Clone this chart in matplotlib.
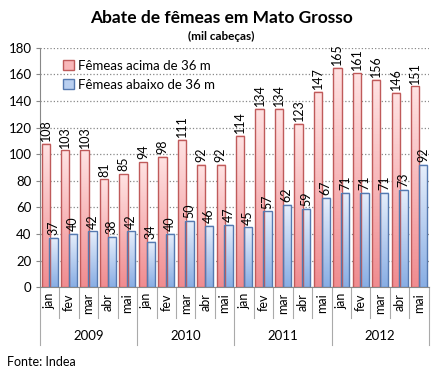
import numpy as np
import matplotlib
matplotlib.use("Agg")
import matplotlib.pyplot as plt
import matplotlib.transforms as mtransforms
from matplotlib.colors import LinearSegmentedColormap
from matplotlib.patches import Patch

plt.rcParams['font.family'] = ['Lato', 'DejaVu Sans']

# data (mil cabeças)
years = ['2009', '2010', '2011', '2012']
months = ['jan', 'fev', 'mar', 'abr', 'mai']
acima = [108, 103, 103, 81, 85,
         94, 98, 111, 92, 92,
         114, 134, 134, 123, 147,
         165, 161, 156, 146, 151]
abaixo = [37, 40, 42, 38, 42,
          34, 40, 50, 46, 47,
          45, 57, 62, 59, 67,
          71, 71, 71, 73, 92]

red_cmap = LinearSegmentedColormap.from_list('r', ['#f08c90', '#ffe2e2'])
blue_cmap = LinearSegmentedColormap.from_list('b', ['#89aee4', '#e6eefb'])
grad = np.linspace(0, 1, 64).reshape(-1, 1)

fig = plt.figure(figsize=(4.43, 3.89), dpi=100)
ax = fig.add_axes([0.09, 0.262, 0.878, 0.615])

n = len(acima)
x = np.arange(n)
w = 0.43


def gradient_bars(xs, vals, cmap, edge):
    bars = ax.bar(xs, vals, width=w, facecolor='none', edgecolor=edge,
                  linewidth=1.0, zorder=4)
    for b in bars:
        x0, y0 = b.get_x(), b.get_y()
        ax.imshow(grad, cmap=cmap, origin='lower', aspect='auto',
                  extent=(x0, x0 + b.get_width(), y0, y0 + b.get_height()),
                  zorder=3)
    return bars


gradient_bars(x - 0.2, acima, red_cmap, '#bf5a5a')
gradient_bars(x + 0.2, abaixo, blue_cmap, '#5579b0')

# value labels
for xi, v in zip(x, acima):
    ax.text(xi - 0.2, v + 2, str(v), rotation=90, ha='center', va='bottom',
            fontsize=9, zorder=6)
for xi, v in zip(x, abaixo):
    ax.text(xi + 0.2, v + 2, str(v), rotation=90, ha='center', va='bottom',
            fontsize=9, zorder=6)

ax.set_xlim(-0.5, n - 0.5)
ax.set_ylim(0, 180)
ax.set_yticks(np.arange(0, 181, 20))
ax.tick_params(axis='y', labelsize=9.5, length=3, color='#888888', pad=3)
ax.set_xticks([])
ax.grid(axis='y', linestyle=':', color='#888888', linewidth=0.9, zorder=0)
ax.set_axisbelow(True)
for s in ['top', 'right']:
    ax.spines[s].set_visible(False)
ax.spines['left'].set_color('#888888')
ax.spines['bottom'].set_color('#888888')

# two-level category axis
tr = mtransforms.blended_transform_factory(ax.transData, ax.transAxes)
for i in range(n):
    ax.text(i, -0.025, months[i % 5], rotation=90, ha='center', va='top',
            fontsize=9, transform=tr)
for k in range(n + 1):
    bottom = -0.243 if k % 5 == 0 else -0.13
    ax.plot([k - 0.5, k - 0.5], [0, bottom], color='#aaaaaa', lw=0.8,
            transform=tr, clip_on=False)
for j, yr in enumerate(years):
    ax.text(j * 5 + 2, -0.205, yr, ha='center', va='center', fontsize=9.5,
            transform=tr)

handles = [Patch(facecolor='#f8b7b9', edgecolor='#bf5a5a', label='Fêmeas acima de 36 m'),
           Patch(facecolor='#b9cff0', edgecolor='#5579b0', label='Fêmeas abaixo de 36 m')]
ax.legend(handles=handles, loc='upper left', bbox_to_anchor=(0.03, 1.0),
          frameon=False, fontsize=9.5, handlelength=0.8, handleheight=0.8,
          handletextpad=0.3, labelspacing=0.55)

fig.text(0.5, 0.94, 'Abate de fêmeas em Mato Grosso', ha='center',
         fontsize=12.5, fontweight='bold')
fig.text(0.5, 0.896, '(mil cabeças)', ha='center', fontsize=8.5,
         fontweight='bold')
fig.text(0.016, 0.058, 'Fonte: Indea', fontsize=9)

fig.savefig('out.png', dpi=100)
